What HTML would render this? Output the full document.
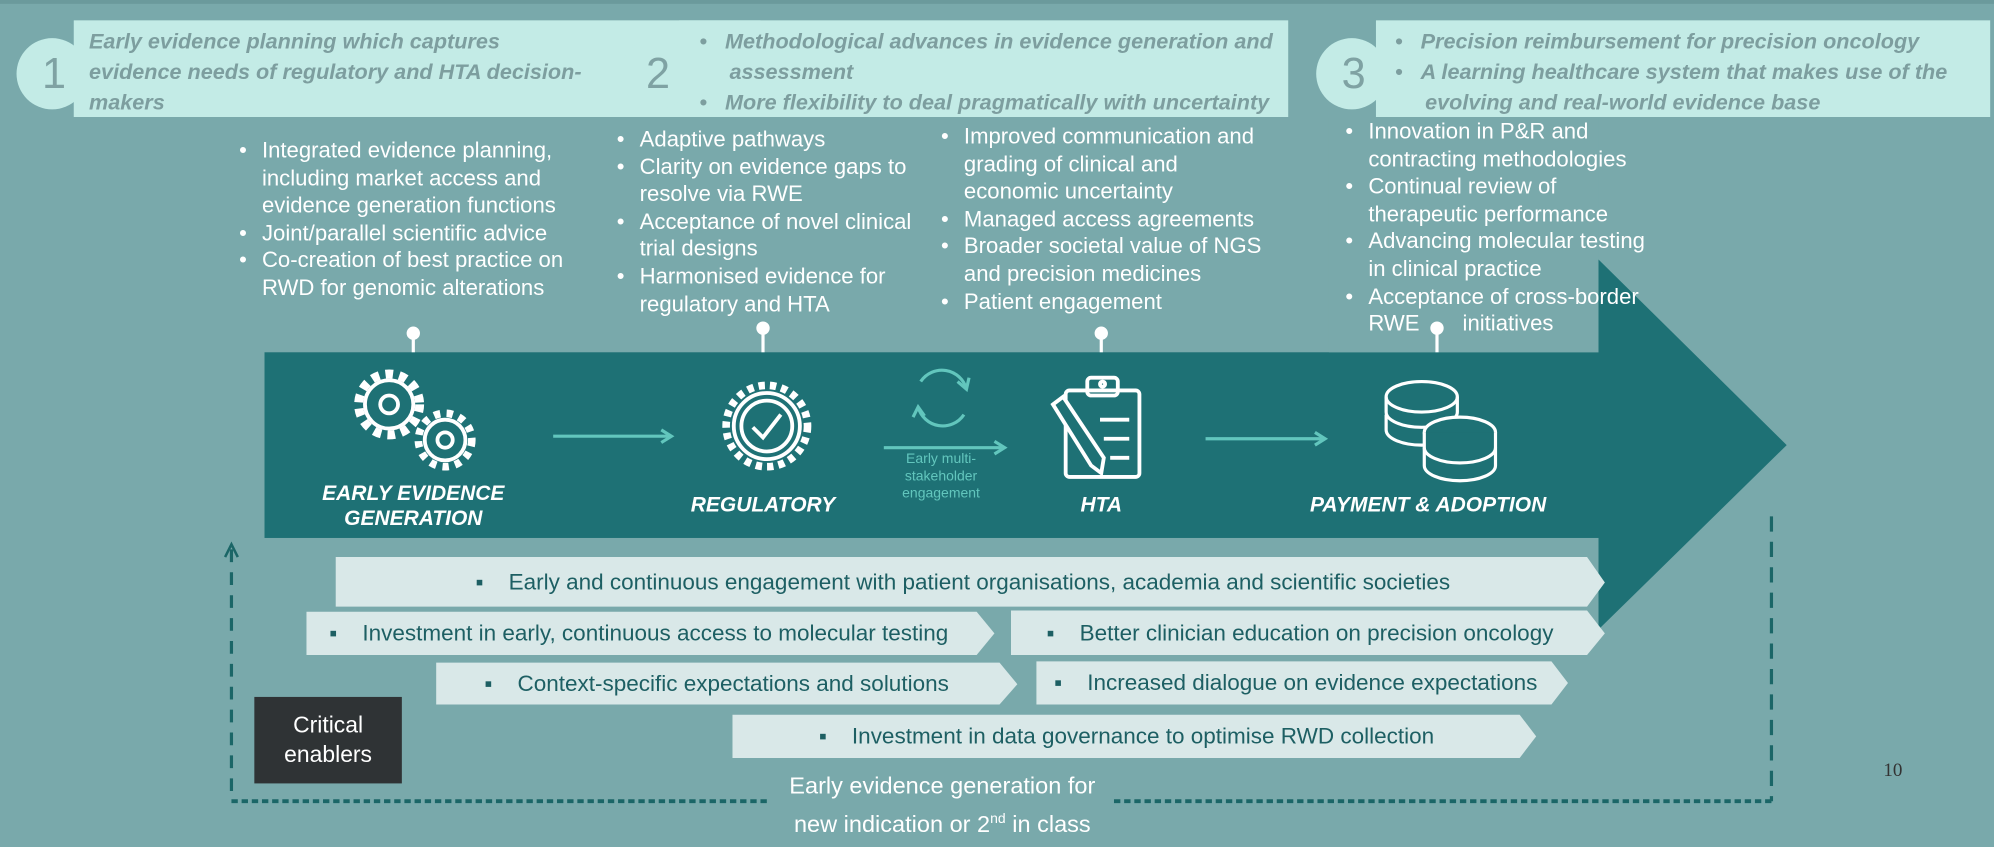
<!DOCTYPE html>
<html><head><meta charset="utf-8"><style>
html,body{margin:0;padding:0;width:1994px;height:847px;overflow:hidden;background:#79a9ab;}
#w{position:absolute;left:0;top:0;width:1568px;height:666px;transform:scale(1.27168,1.27177);transform-origin:0 0;font-family:"Liberation Sans",sans-serif;}
.a{position:absolute;white-space:nowrap;}
.hb{position:absolute;background:#c3ebe6;}
.circ{position:absolute;width:56px;height:56px;border-radius:50%;background:#c3ebe6;color:#7fa2a3;font-size:34px;line-height:56px;}
.circ span{position:absolute;left:20px;}
.ht{position:absolute;color:#7d9e9f;font-weight:bold;font-style:italic;font-size:17px;line-height:24px;white-space:nowrap;}
.bl{position:absolute;color:#fff;font-size:17.4px;line-height:21.6px;white-space:nowrap;}
.bl div{position:relative;padding-left:18px;}
.bl div b{position:absolute;left:0;font-weight:normal;}
.lab{position:absolute;color:#fff;font-weight:bold;font-style:italic;font-size:16.5px;text-align:center;line-height:20px;white-space:nowrap;}
.bx{position:absolute;color:#1d5f63;font-size:17.7px;white-space:nowrap;}
.bx span{position:absolute;top:50%;transform:translateY(-50%);}
</style></head><body><div id="w">
<div style="position:absolute;left:0;top:0;width:1568px;height:3px;background:#6b9a9c"></div>
<svg width="1568" height="666" style="position:absolute;left:0;top:0">
<rect x="208" y="277" width="1050" height="146" fill="#1e7175"/>
<polygon points="1257,204 1405,350 1257,495" fill="#1e7175"/>
<rect x="1045" y="92" width="212" height="185" fill="#79a9ab"/>
<g stroke="#fff" stroke-width="2.5" fill="#fff">
<line x1="325" y1="262" x2="325" y2="277"/><circle cx="325" cy="262" r="4"/>
<line x1="600" y1="258" x2="600" y2="277"/><circle cx="600" cy="258" r="4"/>
<line x1="866" y1="262" x2="866" y2="277"/><circle cx="866" cy="262" r="4"/>
<line x1="1130" y1="258" x2="1130" y2="277"/><circle cx="1130" cy="258" r="4"/>
</g>
<g fill="none" stroke="#fff" stroke-width="3">
<circle cx="306" cy="318" r="19"/><circle cx="306" cy="318" r="24" stroke-width="7" stroke-dasharray="6 5"/><circle cx="306" cy="318" r="7"/>
<circle cx="350" cy="346" r="16"/><circle cx="350" cy="346" r="21" stroke-width="6" stroke-dasharray="5 5"/><circle cx="350" cy="346" r="6"/>
<circle cx="603" cy="335" r="26"/><circle cx="603" cy="335" r="32" stroke-width="6" stroke-dasharray="5 4"/><circle cx="603" cy="335" r="20"/>
<polyline points="592,336 600,344 614,326"/>
<rect x="838" y="307" width="58" height="68" rx="3"/><rect x="855" y="297" width="24" height="14" rx="3"/><circle cx="867" cy="302" r="2"/>
<line x1="865" y1="330" x2="888" y2="330"/><line x1="868" y1="345" x2="888" y2="345"/><line x1="873" y1="360" x2="888" y2="360"/>
<polygon points="828,318 836,312 868,360 866,372 858,366" fill="#1e7175"/>
<g stroke-width="2.5">
<ellipse cx="1118" cy="312" rx="28" ry="12" fill="#1e7175"/>
<path d="M1090 312 v12 a28 12 0 0 0 56 0 v-12"/>
<path d="M1090 326 v12 a28 12 0 0 0 56 0"/>
<ellipse cx="1148" cy="340" rx="28" ry="12" fill="#1e7175"/>
<path d="M1120 340 v26 a28 12 0 0 0 56 0 v-26" fill="#1e7175"/>
<path d="M1120 352 a28 12 0 0 0 56 0" />
</g>
</g>
<g fill="none" stroke="#62c6bd" stroke-width="2.5">
<path d="M724 300 A20 20 0 0 1 760 306"/><polyline points="753,300 760,306 762,297"/>
<path d="M758 326 A20 20 0 0 1 722 320"/><polyline points="727,327 722,320 718,328"/>
<line x1="435" y1="343" x2="526" y2="343"/><polyline points="520,338 528,343 520,348"/>
<line x1="695" y1="352" x2="788" y2="352"/><polyline points="782,347 790,352 782,357"/>
<line x1="948" y1="345" x2="1040" y2="345"/><polyline points="1034,340 1042,345 1034,350"/>
</g>
<g fill="none" stroke="#1b6667" stroke-width="2.5">
<line x1="182" y1="432" x2="182" y2="630" stroke-dasharray="10 8"/>
<polyline points="177,438 182,428 187,438" stroke-width="2"/>
<line x1="182" y1="630" x2="605" y2="630" stroke-dasharray="5 3" stroke-width="3"/>
<line x1="876" y1="630" x2="1393" y2="630" stroke-dasharray="5 3" stroke-width="3"/>
<line x1="1393" y1="406" x2="1393" y2="630" stroke-dasharray="12 8"/>
</g>
<g fill="#d9e8e8">
<polygon points="264,438 1248,438 1262,458 1248,477 264,477"/>
<polygon points="241,481 768,481 782,498 768,515 241,515"/>
<polygon points="795,480 1248,480 1262,498 1248,515 795,515"/>
<polygon points="343,521 786,521 800,538 786,554 343,554"/>
<polygon points="815,520 1220,520 1233,537 1220,554 815,554"/>
<polygon points="576,562 1195,562 1208,579 1195,596 576,596"/>
</g>
</svg>
<div class="circ" style="left:13px;top:30px"><span>1</span></div>
<div class="hb" style="left:58px;top:16px;width:540px;height:76px"></div>
<div class="ht" style="left:70px;top:21px">Early evidence planning which captures<br>evidence needs of regulatory and HTA decision-<br>makers</div>
<div class="circ" style="left:488px;top:30px"><span>2</span></div>
<div class="hb" style="left:534px;top:16px;width:479px;height:76px"></div>
<div class="ht" style="left:550px;top:21px">•&nbsp;&nbsp;&nbsp;Methodological advances in evidence generation and<br>&nbsp;&nbsp;&nbsp;&nbsp;&nbsp;assessment<br>•&nbsp;&nbsp;&nbsp;More flexibility to deal pragmatically with uncertainty</div>
<div class="circ" style="left:1035px;top:30px"><span>3</span></div>
<div class="hb" style="left:1082px;top:16px;width:483px;height:76px"></div>
<div class="ht" style="left:1097px;top:21px">•&nbsp;&nbsp;&nbsp;Precision reimbursement for precision oncology<br>•&nbsp;&nbsp;&nbsp;A learning healthcare system that makes use of the<br>&nbsp;&nbsp;&nbsp;&nbsp;&nbsp;evolving and real-world evidence base</div>

<div class="bl" style="left:188px;top:108px"><div><b>•</b>Integrated evidence planning,</div><div>including market access and</div><div>evidence generation functions</div><div><b>•</b>Joint/parallel scientific advice</div><div><b>•</b>Co-creation of best practice on</div><div>RWD for genomic alterations</div></div>
<div class="bl" style="left:485px;top:99px"><div><b>•</b>Adaptive pathways</div><div><b>•</b>Clarity on evidence gaps to</div><div>resolve via RWE</div><div><b>•</b>Acceptance of novel clinical</div><div>trial designs</div><div><b>•</b>Harmonised evidence for</div><div>regulatory and HTA</div></div>
<div class="bl" style="left:740px;top:97px"><div><b>•</b>Improved communication and</div><div>grading of clinical and</div><div>economic uncertainty</div><div><b>•</b>Managed access agreements</div><div><b>•</b>Broader societal value of NGS</div><div>and precision medicines</div><div><b>•</b>Patient engagement</div></div>
<div class="bl" style="left:1058px;top:93px"><div><b>•</b>Innovation in P&amp;R and</div><div>contracting methodologies</div><div><b>•</b>Continual review of</div><div>therapeutic performance</div><div><b>•</b>Advancing molecular testing</div><div>in clinical practice</div><div><b>•</b>Acceptance of cross-border</div><div>RWE &nbsp;&nbsp;&nbsp;&nbsp;&nbsp;&nbsp;initiatives</div></div>

<div class="lab" style="left:225px;top:378px;width:200px">EARLY EVIDENCE<br>GENERATION</div>
<div class="lab" style="left:500px;top:387px;width:200px">REGULATORY</div>
<div class="lab" style="left:816px;top:387px;width:100px">HTA</div>
<div class="lab" style="left:1013px;top:387px;width:220px">PAYMENT &amp; ADOPTION</div>
<div class="a" style="left:690px;top:355px;width:100px;text-align:center;color:#62c6bd;font-size:11px;line-height:13.5px">Early multi-<br>stakeholder<br>engagement</div>

<div class="bx" style="left:264px;top:438px;width:1000px;height:39px"><span style="left:110px">▪&nbsp;&nbsp;&nbsp;&nbsp;Early and continuous engagement with patient organisations, academia and scientific societies</span></div>
<div class="bx" style="left:241px;top:481px;width:540px;height:34px"><span style="left:18px">▪&nbsp;&nbsp;&nbsp;&nbsp;Investment in early, continuous access to molecular testing</span></div>
<div class="bx" style="left:795px;top:480px;width:460px;height:35px"><span style="left:28px">▪&nbsp;&nbsp;&nbsp;&nbsp;Better clinician education on precision oncology</span></div>
<div class="bx" style="left:343px;top:521px;width:450px;height:33px"><span style="left:38px">▪&nbsp;&nbsp;&nbsp;&nbsp;Context-specific expectations and solutions</span></div>
<div class="bx" style="left:815px;top:520px;width:410px;height:34px"><span style="left:14px">▪&nbsp;&nbsp;&nbsp;&nbsp;Increased dialogue on evidence expectations</span></div>
<div class="bx" style="left:576px;top:562px;width:630px;height:34px"><span style="left:68px">▪&nbsp;&nbsp;&nbsp;&nbsp;Investment in data governance to optimise RWD collection</span></div>

<div class="a" style="left:200px;top:548px;width:116px;height:68px;background:#2f3335;color:#fff;font-size:18px;line-height:23px;text-align:center;padding-top:11px;box-sizing:border-box">Critical<br>enablers</div>
<div class="a" style="left:596px;top:605px;width:290px;text-align:center;color:#fff;font-size:18.5px;line-height:26px">Early evidence generation for<br>new indication or 2<sup style="font-size:11px">nd</sup> in class</div>
<div class="a" style="left:1481px;top:598px;color:#333;font-family:'Liberation Serif',serif;font-size:15px">10</div>
</div></body></html>
